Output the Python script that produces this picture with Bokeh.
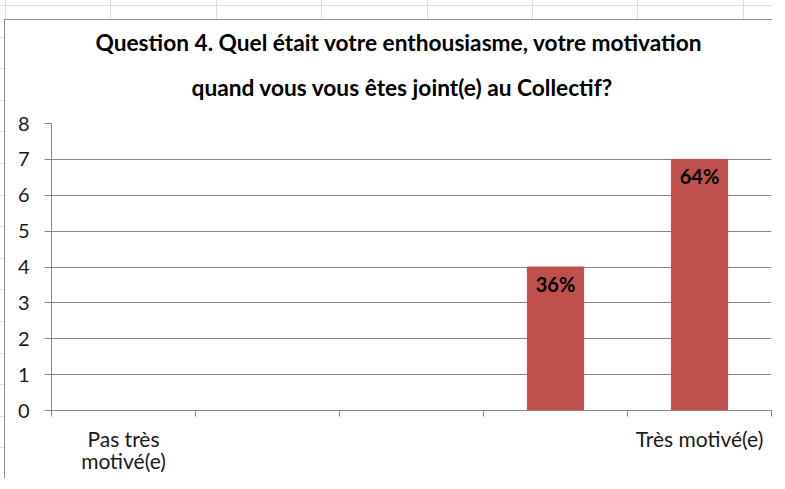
from bokeh.plotting import figure
from bokeh.models import Range1d, FixedTicker, Title, ColumnDataSource
from bokeh.core.properties import value
from bokeh.embed import file_html
from bokeh.resources import INLINE

categories = ["Pas très\nmotivé(e)", "", "", "", "Très motivé(e)"]
counts = [0, 0, 0, 4, 7]
pct_labels = ["", "", "", "36%", "64%"]
y_ticks = [0, 1, 2, 3, 4, 5, 6, 7, 8]
title_line1 = "Question 4. Quel était votre enthousiasme, votre motivation"
title_line2 = "quand vous vous êtes  joint(e) au Collectif?"

FONT = "Lato"
GRID = "#868686"
CELL = "#dcdcdc"
BORDER = "#8c8c8c"

FIG_W, FIG_H = 777, 478
MBL, MBR, MBT, MBB = 51, 6, 123, 68

xc = [i + 0.5 for i in range(len(categories))]
src = ColumnDataSource(dict(x=xc, top=counts, lab=pct_labels))

p = figure(width=FIG_W, height=FIG_H, output_backend="svg", toolbar_location=None,
           x_range=Range1d(0, len(categories)), y_range=Range1d(0, 8),
           min_border_left=MBL, min_border_right=MBR, min_border_top=MBT,
           min_border_bottom=MBB)
p.outline_line_color = None
p.background_fill_color = "white"
p.border_fill_color = None

# spreadsheet cells behind the chart area (decoration, CSS on the figure element)
p.styles = {
    "background": (
        f"linear-gradient({BORDER},{BORDER}) 4px 19px / 100% 1px no-repeat, "
        f"linear-gradient({BORDER},{BORDER}) 4px 19px / 1px 100% no-repeat, "
        "linear-gradient(white,white) 5px 20px / 100% 100% no-repeat, "
        f"repeating-linear-gradient(to right, {CELL} 0 1px, transparent 1px 105.4px) 5px 0 / 100% 100% no-repeat, "
        f"repeating-linear-gradient(to bottom, {CELL} 0 1px, transparent 1px 31.6px) 0 5px / 100% 100% no-repeat, "
        "white"
    ),
    "clip-path": "inset(0 5px 0 0)",
}

# two-line title (first added = nearest the plot)
p.add_layout(Title(text=title_line2, align="left", vertical_align="top", offset=140, standoff=42,
                   text_font=FONT, text_font_size="22.7px", text_font_style="bold",
                   text_color="#000000"), "above")
p.add_layout(Title(text=title_line1, align="left", vertical_align="top", offset=44, standoff=-10,
                   text_font=FONT, text_font_size="22.7px", text_font_style="bold",
                   text_color="#000000"), "above")

p.vbar(x="x", top="top", width=0.39, source=src, color="#C0504D")
p.text(x="x", y="top", text="lab", source=src, text_align="center", text_baseline="top",
       y_offset=5, text_font=value(FONT), text_font_size="20px", text_font_style="bold",
       text_color="#000000")

# y axis
p.yaxis.ticker = FixedTicker(ticks=y_ticks, minor_ticks=[])
p.yaxis.axis_line_color = GRID
p.yaxis.major_tick_line_color = GRID
p.yaxis.major_tick_out = 7
p.yaxis.major_tick_in = 0
p.yaxis.minor_tick_line_color = None
p.yaxis.major_label_text_font = FONT
p.yaxis.major_label_text_font_size = "20px"
p.yaxis.major_label_text_color = "#1a1a1a"
p.yaxis.major_label_standoff = 15

# x axis
p.xaxis.ticker = FixedTicker(ticks=xc, minor_ticks=list(range(len(categories) + 1)))
p.xaxis.major_label_overrides = {x: c for x, c in zip(xc, categories)}
p.xaxis.axis_line_color = GRID
p.xaxis.major_tick_line_color = None
p.xaxis.major_tick_out = 0
p.xaxis.major_tick_in = 0
p.xaxis.minor_tick_line_color = GRID
p.xaxis.minor_tick_out = 6
p.xaxis.minor_tick_in = 0
p.xaxis.major_label_text_font = FONT
p.xaxis.major_label_text_font_size = "21px"
p.xaxis.major_label_text_color = "#1a1a1a"
p.xaxis.major_label_standoff = 9
p.xaxis.major_label_text_line_height = 0.88

p.xgrid.grid_line_color = None
p.ygrid.grid_line_color = GRID
p.ygrid.grid_line_width = 1

open("out.html", "w").write(file_html(p, INLINE))
